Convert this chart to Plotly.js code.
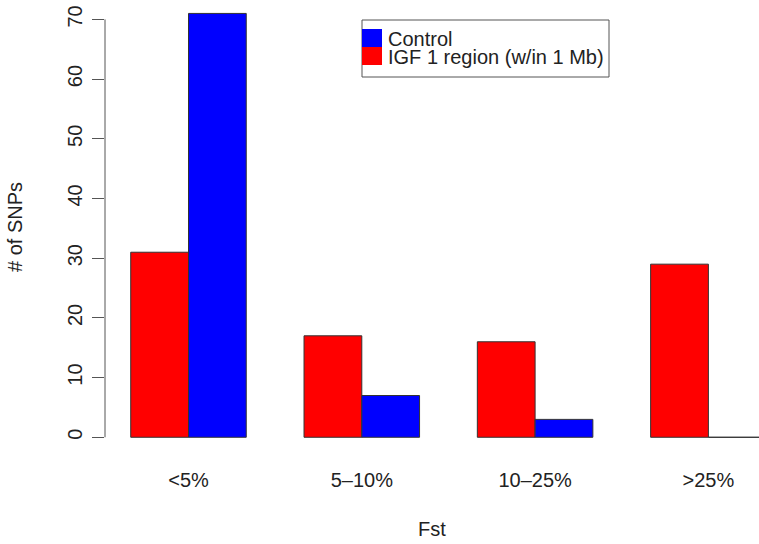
<!DOCTYPE html>
<html>
<head>
<meta charset="utf-8">
<script src="https://cdn.plot.ly/plotly-3.0.1.min.js"></script>
<style>
  html, body { margin: 0; padding: 0; background: #fff; overflow: hidden; }
  #chart { width: 759px; height: 544px; }
</style>
</head>
<body>
<div id="chart"></div>
<script>
// Fst bins and SNP counts per bin
const categories = ["<5%", "5–10%", "10–25%", ">25%"];
const igfRegion = [31, 17, 16, 29];
const control = [71, 7, 3, 0];
const seriesNames = ["Control", "IGF 1 region (w/in 1 Mb)"];
const yTicks = [0, 10, 20, 30, 40, 50, 60, 70];

const RED = "#ff0000";
const BLUE = "#0000ff";
const INK = "#222222";
const AXIS = "#555555";
const FONT = "Liberation Sans, Arial, Helvetica, sans-serif";

const xPos = categories.map((_, i) => i);

const traces = [
  {
    type: "bar",
    name: seriesNames[1],
    x: xPos,
    y: igfRegion,
    marker: { color: RED, line: { color: "#333", width: 1 } },
    hoverinfo: "y",
    showlegend: false
  },
  {
    type: "bar",
    name: seriesNames[0],
    x: xPos,
    y: control,
    marker: { color: BLUE, line: { color: "#333", width: 1 } },
    hoverinfo: "y",
    showlegend: false
  }
];

// Key box in paper units (plot area spans 105..759 px horizontally, 0..454 px vertically)
const px = v => (v - 105) / 654;
const py = v => (454 - v) / 454;

const shapes = [
  // y axis spine covering the tick range only
  { type: "line", xref: "paper", yref: "y", x0: 0, x1: 0,
    y0: yTicks[0], y1: yTicks[yTicks.length - 1],
    line: { color: AXIS, width: 1 } },
  // key frame
  { type: "rect", xref: "paper", yref: "paper",
    x0: px(362), x1: px(609), y0: py(20), y1: py(77),
    line: { color: AXIS, width: 1 }, fillcolor: "rgba(0,0,0,0)" },
  // key swatches
  { type: "rect", xref: "paper", yref: "paper",
    x0: px(362), x1: px(382), y0: py(29), y1: py(47),
    line: { width: 0 }, fillcolor: BLUE },
  { type: "rect", xref: "paper", yref: "paper",
    x0: px(362), x1: px(382), y0: py(47), y1: py(65),
    line: { width: 0 }, fillcolor: RED }
];

const annotations = [
  { xref: "paper", yref: "paper", x: px(386), y: py(39), xanchor: "left", yanchor: "middle",
    text: seriesNames[0], showarrow: false, font: { family: FONT, size: 20, color: INK } },
  { xref: "paper", yref: "paper", x: px(386), y: py(57), xanchor: "left", yanchor: "middle",
    text: seriesNames[1], showarrow: false, font: { family: FONT, size: 20, color: INK } }
];

const layout = {
  width: 759,
  height: 544,
  margin: { l: 105, r: 0, t: 0, b: 90 },
  paper_bgcolor: "#ffffff",
  plot_bgcolor: "#ffffff",
  font: { family: FONT, size: 20, color: INK },
  barmode: "group",
  bargap: 1 / 3,
  bargroupgap: 0,
  showlegend: false,
  xaxis: {
    type: "linear",
    range: [-0.4818, 3.292],
    tickmode: "array",
    tickvals: xPos,
    ticktext: categories,
    ticks: "",
    showline: false,
    showgrid: false,
    zeroline: false,
    ticklabelstandoff: 12,
    tickfont: { family: FONT, size: 20, color: INK },
    title: { text: "Fst", standoff: 31, font: { family: FONT, size: 20, color: INK } }
  },
  yaxis: {
    range: [-2.8, 73.25],
    tickmode: "array",
    tickvals: yTicks,
    ticktext: yTicks.map(String),
    tickangle: -90,
    ticks: "outside",
    ticklen: 12,
    tickwidth: 1,
    tickcolor: AXIS,
    showline: false,
    showgrid: false,
    zeroline: false,
    ticklabelstandoff: 2,
    tickfont: { family: FONT, size: 20, color: INK },
    title: { text: "# of SNPs", standoff: 36, font: { family: FONT, size: 20, color: INK } }
  },
  shapes: shapes,
  annotations: annotations
};

Plotly.newPlot("chart", traces, layout, { displayModeBar: false, staticPlot: true });
</script>
</body>
</html>
